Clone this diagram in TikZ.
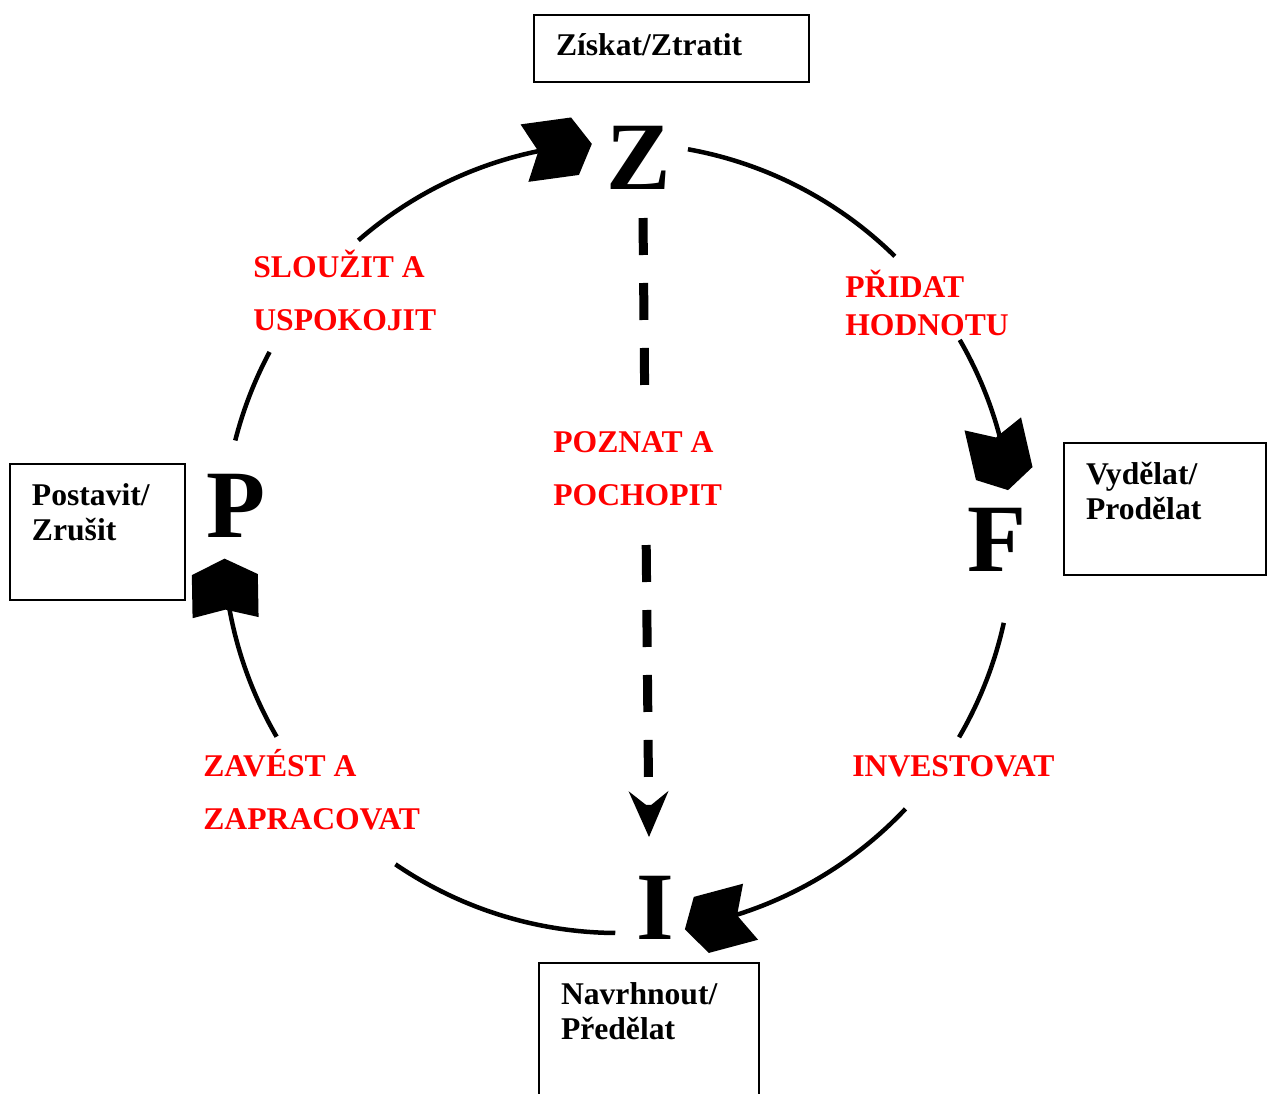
\documentclass[tikz,border=0pt]{standalone}
\usepackage{fontspec}
\setmainfont{Liberation Serif}
\usetikzlibrary{arrows.meta}
\definecolor{lbred}{RGB}{255,0,0}
\tikzset{
  cycleline/.style={line width=0.09cm},
  dashline/.style={line width=0.18cm, dash pattern=on 0.74cm off 0.56cm},
  infobox/.style={draw, line width=0.04cm, anchor=north west, inner xsep=0.44cm, inner ysep=0.38cm,
    text height=0.44cm, font=\fontsize{18}{20.4}\selectfont\bfseries},
  redlabel/.style={anchor=base west, inner sep=0pt, text=lbred, font=\fontsize{18}{30.4}\selectfont\bfseries},
  bigletter/.style={inner sep=0pt, font=\fontsize{55}{60}\selectfont\bfseries},
  blockhead/.pic={\fill (0,0) -- (-17,29) -- (-68,29) -- (-54,0) -- (-68,-29) -- (-17,-29) -- cycle;},
  widehead/.pic={\fill (0,0) -- (-16,33) -- (-59,33) -- (-51,0) -- (-59,-33) -- (-16,-33) -- cycle;}
}
\begin{document}
\begin{tikzpicture}[x=0.02cm, y=0.02cm]
\useasboundingbox (0,0) rectangle (1267,-1093);
\clip (0,0) rectangle (1267,-1093);

% big letters
\node[bigletter] (Z) at (639,-158) {Z};
\node[bigletter] (F) at (997,-540) {F};
\node[bigletter] (I) at (655,-908) {I};
\node[bigletter] (P) at (236,-506) {P};

% boxes
\node[infobox, text depth=0.14cm] (boxZ) at (533,-14) {\parbox[t]{4.62cm}{Získat/Ztratit}};
\node[infobox, text depth=1.52cm] (boxP) at (9,-463) {\parbox[t]{2.62cm}{Postavit/\\Zrušit}};
\node[infobox, text depth=1.44cm] (boxF) at (1063,-442) {\parbox[t]{3.16cm}{Vydělat/\\Prodělat}};
\node[infobox, text depth=1.96cm] (boxI) at (538,-962) {\parbox[t]{3.52cm}{Navrhnout/\\Předělat}};

% red labels
\node[redlabel] (lSU) at (253,-277.5) {\parbox[t]{5cm}{SLOUŽIT A\\USPOKOJIT}};
\node[redlabel, font=\fontsize{18}{21.5}\selectfont\bfseries] (lPH) at (845,-297.5) {\parbox[t]{5cm}{PŘIDAT\\HODNOTU}};
\node[redlabel] (lPP) at (553,-452.5) {\parbox[t]{5cm}{POZNAT A\\POCHOPIT}};
\node[redlabel] (lZZ) at (203,-776.5) {\parbox[t]{5cm}{ZAVÉST A\\ZAPRACOVAT}};
\node[redlabel] (lIN) at (852,-776.5) {INVESTOVAT};

% dashed connector Z -> I
\coordinate (d1) at (643,-218);
\coordinate (d2) at (644.6,-385);
\coordinate (d3) at (646.2,-545);
\coordinate (dtip) at (649,-837);
\draw[dashline] (d1) -- (d2);
\draw[dashline, -{Stealth[length=0.92cm, width=0.8cm, inset=0.32cm, line width=0pt]}] (d3) -- (dtip);

% cycle arcs
\begin{scope}[shift={(618,-538)}]
  \draw[cycleline] (165.7:395) arc[start angle=165.7, end angle=151.9, radius=395];
  \draw[cycleline] (131.1:395) arc[start angle=131.1, end angle=101.1, radius=395];
  \pic[rotate=7.8] at (93.8:395) {blockhead};
  \draw[cycleline] (79.8:395) arc[start angle=79.8, end angle=45.5, radius=395];
  \draw[cycleline] (30.1:395) arc[start angle=30.1, end angle=14.3, radius=395];
  \pic[rotate=-77] at (7:393) {blockhead};
  \draw[cycleline] (-12.4:395) arc[start angle=-12.4, end angle=-30.3, radius=395];
  \draw[cycleline] (-43.3:395) arc[start angle=-43.3, end angle=-73, radius=395];
  \pic[rotate=-165] at (-80.3:397) {blockhead};
  \draw[cycleline] (-90.4:395) arc[start angle=-90.4, end angle=-124.3, radius=395];
  \draw[cycleline] (-149.8:395) arc[start angle=-149.8, end angle=-169.7, radius=395];
  \pic[rotate=91] at (183:394) {widehead};
\end{scope}
\end{tikzpicture}
\end{document}
